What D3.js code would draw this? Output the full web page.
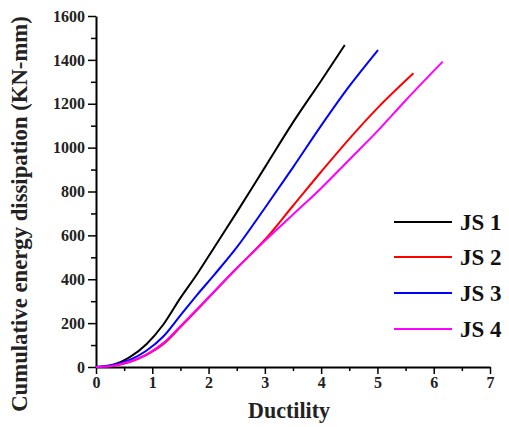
<!DOCTYPE html>
<html>
<head>
<meta charset="utf-8">
<script src="https://cdn.jsdelivr.net/npm/d3@7"></script>
<style>
  body { margin: 0; background: #fff; }
  text { font-family: "Liberation Serif", "DejaVu Serif", serif; font-weight: bold; }
</style>
</head>
<body>
<svg id="canvas"></svg>
<script>
// series names and colours
let seriesNames = ["JS 1", "JS 2", "JS 3", "JS 4"]
let seriesColors = ["#000000", "#ff0000", "#0000ff", "#ff00ff"]

// [ductility, energy]
let js1 = [[0,0],[0.3,10],[0.6,45],[0.9,105],[1.2,195],[1.5,315],[1.8,425],[2.1,545],[2.5,705],[3.0,910],[3.5,1115],[4.0,1305],[4.42,1468]]
let js2 = [[0,0],[0.3,5],[0.6,23],[0.9,55],[1.2,105],[1.5,182],[2.0,315],[2.5,450],[3.0,580],[3.5,735],[4.0,890],[4.5,1040],[5.0,1180],[5.64,1339]]
let js3 = [[0,0],[0.3,8],[0.6,32],[0.9,75],[1.2,140],[1.5,235],[1.8,330],[2.1,420],[2.5,545],[3.0,725],[3.5,910],[4.0,1100],[4.5,1280],[5.01,1445]]
let js4 = [[0,0],[0.3,6],[0.6,25],[0.9,58],[1.2,110],[1.5,186],[2.0,318],[2.5,450],[3.0,575],[3.5,695],[4.0,815],[4.5,945],[5.0,1075],[5.5,1215],[6.16,1392]]
let allSeries = [js1, js2, js3, js4]

let xTicks = [0, 1, 2, 3, 4, 5, 6, 7]
let yTicks = [0, 200, 400, 600, 800, 1000, 1200, 1400, 1600]

const W = 509, H = 427
const mLeft = 96, mRight = 490, mTop = 16, mBottom = 367

let svg = d3.select("#canvas")
    .attr("width", W)
    .attr("height", H)

let x = d3.scaleLinear().domain([0, 7]).range([mLeft, mRight])
let y = d3.scaleLinear().domain([0, 1600]).range([mBottom, mTop])

// minor ticks first (drawn under majors)
svg.append("g")
    .attr("transform", `translate(0,${mBottom})`)
    .call(d3.axisBottom(x).tickValues(d3.range(0.5, 7, 1)).tickSize(4).tickFormat(""))
    .call(g => g.select(".domain").remove())
svg.append("g")
    .attr("transform", `translate(${mLeft},0)`)
    .call(d3.axisLeft(y).tickValues(d3.range(100, 1600, 200)).tickSize(5).tickFormat(""))
    .call(g => g.select(".domain").remove())

let xAxis = svg.append("g")
    .attr("transform", `translate(0,${mBottom})`)
    .call(d3.axisBottom(x).tickValues(xTicks).tickFormat(d3.format("d")).tickSize(7).tickSizeOuter(0).tickPadding(3))
let yAxis = svg.append("g")
    .attr("transform", `translate(${mLeft},0)`)
    .call(d3.axisLeft(y).tickValues(yTicks).tickFormat(d3.format("d")).tickSize(8).tickSizeOuter(0).tickPadding(3))

svg.selectAll(".tick line").attr("stroke", "#000").attr("stroke-width", 1.5)
svg.selectAll(".domain").attr("stroke", "#000").attr("stroke-width", 2)
svg.selectAll(".tick text")
    .style("font-family", "'Liberation Serif', serif")
    .style("font-weight", "bold")
    .style("font-size", "16px")
    .attr("fill", "#222")

// curves
let line = d3.line()
    .x(d => x(d[0]))
    .y(d => y(d[1]))
    .curve(d3.curveMonotoneX)

svg.append("g").selectAll("path")
    .data(allSeries)
    .enter().append("path")
    .attr("d", line)
    .attr("fill", "none")
    .attr("stroke", (d, i) => seriesColors[i])
    .attr("stroke-width", 2)

// legend
let legend = svg.append("g")
let legY = [222, 257, 293, 329]
seriesNames.forEach((name, i) => {
    legend.append("line")
        .attr("x1", 394).attr("x2", 452)
        .attr("y1", legY[i]).attr("y2", legY[i])
        .attr("stroke", seriesColors[i])
        .attr("stroke-width", 2)
    legend.append("text")
        .attr("x", 460).attr("y", legY[i] + 8)
        .attr("font-size", 23)
        .attr("fill", "#111")
        .text(name)
})

// axis titles, sized to the width they take in the picture
function fitText(sel, target, base) {
    let len = sel.node().getComputedTextLength()
    sel.attr("font-size", base * target / len)
}

let xTitle = svg.append("text")
    .attr("x", 289).attr("y", 418)
    .attr("text-anchor", "middle")
    .attr("font-size", 19)
    .attr("fill", "#222")
    .text("Ductility")
fitText(xTitle, 82, 19)

let yTitle = svg.append("text")
    .attr("transform", "translate(27,214) rotate(-90)")
    .attr("text-anchor", "middle")
    .attr("font-size", 19)
    .attr("fill", "#222")
    .text("Cumulative energy dissipation (KN-mm)")
fitText(yTitle, 396, 19)
</script>
</body>
</html>
